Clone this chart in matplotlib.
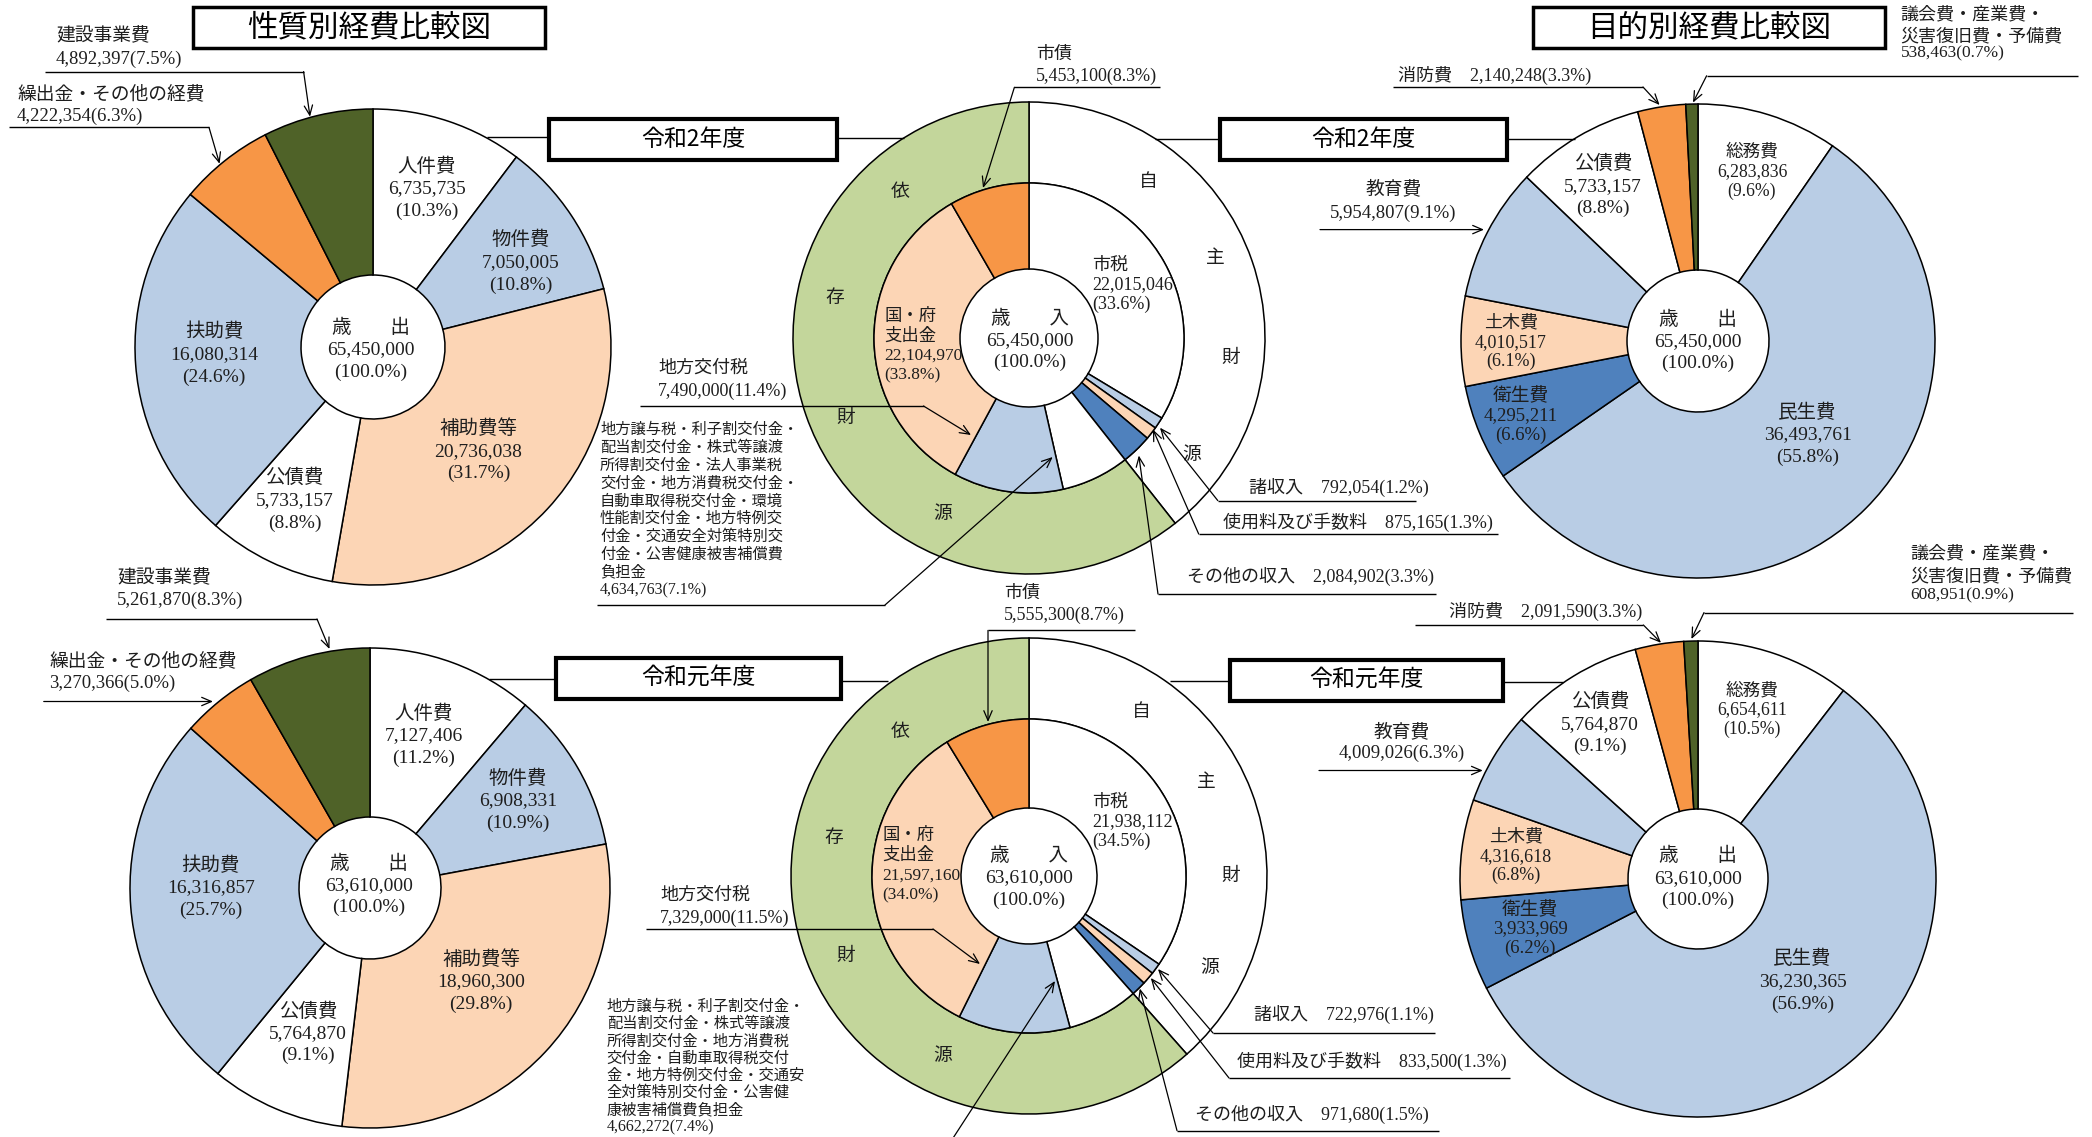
import matplotlib
matplotlib.use('Agg')
import matplotlib.pyplot as plt
from matplotlib.patches import Rectangle

W, H = 2092, 1137
plt.rcParams['font.family'] = ['Liberation Serif', 'Noto Sans CJK JP']
GOTHIC = ['Noto Sans CJK JP', 'DejaVu Sans']

# ---------------- data ----------------
years = ['令和2年度', '令和元年度']
totals = [65450000, 63610000]

nature_names = ['人件費', '物件費', '補助費等', '公債費', '扶助費', '繰出金・その他の経費', '建設事業費']
nature_r2 = [6735735, 7050005, 20736038, 5733157, 16080314, 4222354, 4892397]
nature_r2_pct = [10.3, 10.8, 31.7, 8.8, 24.6, 6.3, 7.5]
nature_r1 = [7127406, 6908331, 18960300, 5764870, 16316857, 3270366, 5261870]
nature_r1_pct = [11.2, 10.9, 29.8, 9.1, 25.7, 5.0, 8.3]

rev_names_r2 = ['市税', '諸収入', '使用料及び手数料', 'その他の収入',
                '地方譲与税・利子割交付金・\n配当割交付金・株式等譲渡\n所得割交付金・法人事業税\n交付金・地方消費税交付金・\n'
                '自動車取得税交付金・環境\n性能割交付金・地方特例交\n付金・交通安全対策特別交\n付金・公害健康被害補償費\n負担金',
                '地方交付税', '国・府\n支出金', '市債']
rev_names_r1 = ['市税', '諸収入', '使用料及び手数料', 'その他の収入',
                '地方譲与税・利子割交付金・\n配当割交付金・株式等譲渡\n所得割交付金・地方消費税\n交付金・自動車取得税交付\n'
                '金・地方特例交付金・交通安\n全対策特別交付金・公害健\n康被害補償費負担金',
                '地方交付税', '国・府\n支出金', '市債']
rev_r2 = [22015046, 792054, 875165, 2084902, 4634763, 7490000, 22104970, 5453100]
rev_r2_pct = [33.6, 1.2, 1.3, 3.3, 7.1, 11.4, 33.8, 8.3]
rev_r1 = [21938112, 722976, 833500, 971680, 4662272, 7329000, 21597160, 5555300]
rev_r1_pct = [34.5, 1.1, 1.3, 1.5, 7.4, 11.5, 34.0, 8.7]
own_count = 4  # first four items = 自主財源, rest = 依存財源

purpose_names = ['総務費', '民生費', '衛生費', '土木費', '教育費', '公債費', '消防費', '議会費・産業費・\n災害復旧費・予備費']
purpose_r2 = [6283836, 36493761, 4295211, 4010517, 5954807, 5733157, 2140248, 538463]
purpose_r2_pct = [9.6, 55.8, 6.6, 6.1, 9.1, 8.8, 3.3, 0.7]
purpose_r1 = [6654611, 36230365, 3933969, 4316618, 4009026, 5764870, 2091590, 608951]
purpose_r1_pct = [10.5, 56.9, 6.2, 6.8, 6.3, 9.1, 3.3, 0.9]

# ---------------- style ----------------
WH, LB, PE, OR, DG, BL, GR = '#FFFFFF', '#B9CDE5', '#FCD5B5', '#F79646', '#4F6228', '#4F81BD', '#C3D69B'
nature_colors = [WH, LB, PE, WH, LB, OR, DG]
rev_colors = [WH, LB, PE, BL, WH, LB, PE, OR]
purpose_colors = [WH, LB, BL, PE, LB, WH, OR, DG]
EDGE_LW = 1.1
FS = 14      # main in-pie labels
FS_OUT = 13.5

fig = plt.figure(figsize=(W / 100, H / 100), dpi=100)
fig.patch.set_facecolor('white')

ax0 = fig.add_axes([0, 0, 1, 1])
ax0.set_xlim(0, W)
ax0.set_ylim(H, 0)
ax0.axis('off')
ax0.set_zorder(5)
ax0.patch.set_visible(False)

PAD = 1.04


def pie_axes(cx, cy, R):
    return fig.add_axes([(cx - R * PAD) / W, 1 - (cy + R * PAD) / H, 2 * R * PAD / W, 2 * R * PAD / H])


def finish(ax):
    ax.set_xlim(-PAD, PAD)
    ax.set_ylim(-PAD, PAD)
    ax.set_aspect('equal')
    ax.axis('off')


def simple_pie(cx, cy, R, hole, vals, colors):
    ax = pie_axes(cx, cy, R)
    ax.pie(vals, colors=colors, startangle=90, counterclock=False, radius=1,
           wedgeprops=dict(width=1 - hole / R, edgecolor='black', linewidth=EDGE_LW))
    finish(ax)


def donut(cx, cy, R, mid, hole, vals, colors):
    ax = pie_axes(cx, cy, R)
    own = sum(vals[:own_count])
    dep = sum(vals[own_count:])
    ax.pie([own, dep], colors=[WH, GR], startangle=90, counterclock=False, radius=1,
           wedgeprops=dict(width=1 - mid / R, edgecolor='black', linewidth=EDGE_LW))
    ax.pie(vals, colors=colors, startangle=90, counterclock=False, radius=mid / R,
           wedgeprops=dict(width=(mid - hole) / R, edgecolor='black', linewidth=EDGE_LW))
    finish(ax)


def txt(x, y, s, ha='center', size=FS, **kw):
    ax0.text(x, y, s, ha=ha, va='center', fontsize=size, color='#1e1e1e', **kw)


def lines(x, y0, dy, strs, ha='center', size=FS):
    for i, s in enumerate(strs):
        txt(x, y0 + i * dy, s, ha=ha, size=size)


def seg(x1, y1, x2, y2, lw=1.0):
    ax0.plot([x1, x2], [y1, y2], color='black', lw=lw, solid_capstyle='butt')


def arrow(x1, y1, x2, y2):
    ax0.annotate('', xy=(x2, y2), xytext=(x1, y1),
                 arrowprops=dict(arrowstyle='->,head_length=0.7,head_width=0.3', lw=0.9,
                                 color='black', shrinkA=0, shrinkB=0))


def box(x1, y1, x2, y2, s, size, lw):
    ax0.add_patch(Rectangle((x1, y1), x2 - x1, y2 - y1, fill=True, facecolor='white',
                            edgecolor='black', lw=lw, zorder=3))
    ax0.text((x1 + x2) / 2, (y1 + y2) / 2, s, ha='center', va='center', fontsize=size,
             family=GOTHIC, zorder=4)


def three(names, vals, pcts, i):
    return [names[i], f'{vals[i]:,}', f'({pcts[i]:.1f}%)']


def center_lbl(word, total):
    return [word, f'{total:,}', '(100.0%)']


# ---------------- titles ----------------
box(193, 7, 545, 48, '性質別経費比較図', 22, 2.5)
box(1533, 7, 1885, 48, '目的別経費比較図', 22, 2.5)

# ---------------- year boxes + connectors ----------------
seg(487, 137, 549, 137); seg(837, 138, 904, 138)
seg(1155, 138.5, 1220, 138.5); seg(1507, 138.5, 1575, 138.5)
seg(489, 679, 556, 679); seg(841, 680.5, 888, 680.5)
seg(1170, 681, 1230, 681); seg(1503, 681.5, 1563, 681.5)
box(549, 119, 837, 160, years[0], 16.5, 3)
box(1220, 119, 1507, 160, years[0], 16.5, 3)
box(556, 658, 841, 699, years[1], 16.5, 3)
box(1230, 660, 1503, 701, years[1], 16.5, 3)

# ---------------- 性質別 (left) ----------------
simple_pie(373, 347, 238, 72, nature_r2, nature_colors)
simple_pie(370, 888, 240, 71, nature_r1, nature_colors)

n_pos_top = {0: (427, 166.5), 1: (521, 240), 2: (478.5, 428.6), 3: (294.6, 478), 4: (214, 332)}
for i, (x, y) in n_pos_top.items():
    lines(x, y, 22.5, three(nature_names, nature_r2, nature_r2_pct, i))
lines(371, 328, 22, center_lbl('歳　　出', totals[0]))

n_pos_bot = {0: (424, 714), 1: (518, 779), 2: (481, 960), 3: (308, 1011.6), 4: (210.7, 866)}
for i, (x, y) in n_pos_bot.items():
    lines(x, y, 22, three(nature_names, nature_r1, nature_r1_pct, i))
lines(369, 863.5, 22, center_lbl('歳　　出', totals[1]))

# outside labels (top)
lines(56, 36, 23, [nature_names[6], f'{nature_r2[6]:,}({nature_r2_pct[6]:.1f}%)'], ha='left', size=FS_OUT)
seg(45, 71.6, 303.6, 71.6); arrow(303.6, 71.6, 310, 116.7)
lines(17, 94, 22, [nature_names[5], f'{nature_r2[5]:,}({nature_r2_pct[5]:.1f}%)'], ha='left', size=FS_OUT)
seg(9, 127.4, 209, 127.4); arrow(209, 127.4, 219.6, 163.8)
# outside labels (bottom)
lines(117, 578, 22, [nature_names[6], f'{nature_r1[6]:,}({nature_r1_pct[6]:.1f}%)'], ha='left', size=FS_OUT)
seg(106, 619, 317, 619); arrow(317, 619, 329.5, 649)
lines(49, 661, 22.7, [nature_names[5], f'{nature_r1[5]:,}({nature_r1_pct[5]:.1f}%)'], ha='left', size=FS_OUT)
arrow(43.75, 701.5, 213, 701.5)

# ---------------- 歳入 (middle) ----------------
donut(1029, 338, 236, 155, 69, rev_r2, rev_colors)
donut(1029, 876, 238, 157, 68, rev_r1, rev_colors)

ring_chars = ['自', '主', '財', '源', '依', '存', '財', '源']
ring_pos_top = [(1148, 182), (1215, 259), (1231, 358.5), (1191.5, 455.5),
                (899.6, 192.8), (835, 299), (846, 418.5), (942.7, 514.6)]
ring_pos_bot = [(1141, 712), (1206, 782.5), (1231, 876.6), (1209.6, 969),
                (899.6, 732), (834, 838.6), (846, 956.5), (942.7, 1056)]
for ch, (x, y) in zip(ring_chars, ring_pos_top):
    txt(x, y, ch, size=13.5)
for ch, (x, y) in zip(ring_chars, ring_pos_bot):
    txt(x, y, ch, size=13.5)


def rev_block(names, vals, pcts, total, P):
    lines(P['tax'][0], P['tax'][1], 19.5, three(names, vals, pcts, 0), ha='left', size=13)
    lines(P['ctr'][0], P['ctr'][1], 22, center_lbl('歳　　入', total), size=FS)
    g = names[6].split('\n') + [f'{vals[6]:,}', f'({pcts[6]:.1f}%)']
    lines(P['gov'][0], P['gov'][1], 19.7, g, ha='left', size=12.5)
    lines(P['bond'][0], P['bond'][1], 22, [names[7], f'{vals[7]:,}({pcts[7]:.1f}%)'], ha='left', size=13)
    bx = P['bond_line']
    seg(bx[0], bx[1], bx[2], bx[1]); arrow(bx[0], bx[1], bx[3], bx[4])
    for k in (1, 2, 3):
        tx, ty = P['small_txt'][k]
        txt(tx, ty, f'{names[k]}　{vals[k]:,}({pcts[k]:.1f}%)', ha='left', size=13)
        ux1, ux2, uy, ax_, ay_ = P['small_line'][k]
        seg(ux1, uy, ux2, uy); arrow(ux1, uy, ax_, ay_)
    lines(P['kofu'][0], P['kofu'][1], 23, [names[5], f'{vals[5]:,}({pcts[5]:.1f}%)'], ha='left', size=13)
    k = P['kofu_line']
    seg(k[0], k[2], k[1], k[2]); arrow(k[1], k[2], k[3], k[4])
    blk = names[4].split('\n')
    x0, y0, dy = P['joyo']
    lines(x0, y0, dy, blk, ha='left', size=11)
    txt(x0, y0 + len(blk) * dy, f'{vals[4]:,}({pcts[4]:.1f}%)', ha='left', size=11.5)


P_top = dict(tax=(1092, 265), ctr=(1030, 318.6), gov=(884, 316.7),
             bond=(1036, 54), bond_line=(1014.4, 87.3, 1160, 983, 188),
             small_txt={1: (1249, 487), 2: (1222.6, 522), 3: (1186.7, 576.8)},
             small_line={1: (1217.8, 1416, 500.6, 1160, 427.7),
                         2: (1198.7, 1497.7, 534, 1153, 429.6),
                         3: (1158, 1435.5, 594, 1138.8, 455.5)},
             kofu=(658, 368), kofu_line=(640, 923.5, 406, 971, 435),
             joyo=(600, 430, 17.8))
rev_block(rev_names_r2, rev_r2, rev_r2_pct, totals[0], P_top)
seg(597, 605, 885, 605); arrow(885, 605, 1052.7, 457)

P_bot = dict(tax=(1092, 802), ctr=(1029, 856), gov=(882, 835.8),
             bond=(1004, 593.5), bond_line=(988, 630.4, 1135, 988, 722),
             small_txt={1: (1253.7, 1014), 2: (1237, 1061), 3: (1195, 1114.6)},
             small_line={1: (1213, 1434.5, 1033, 1158, 969),
                         2: (1229, 1509.7, 1078, 1150.8, 978),
                         3: (1177, 1439, 1130.6, 1139.8, 988.5)},
             kofu=(660, 895), kofu_line=(646, 933, 929, 980, 964),
             joyo=(606.7, 1006.7, 17.2))
rev_block(rev_names_r1, rev_r1, rev_r1_pct, totals[1], P_bot)
arrow(944, 1152, 1055, 981)

# ---------------- 目的別 (right) ----------------
simple_pie(1698, 341, 237, 71, purpose_r2, purpose_colors)
simple_pie(1698, 879, 238, 70, purpose_r1, purpose_colors)

p_top = {0: (1752, 152.3, 19.5, 12.7), 1: (1807.6, 412.5, 22.4, FS), 2: (1521, 396, 19.7, 13.5),
         3: (1511, 323, 19.3, 13), 5: (1603, 163.8, 22.4, FS)}
for i, (x, y, dy, fs) in p_top.items():
    lines(x, y, dy, three(purpose_names, purpose_r2, purpose_r2_pct, i), size=fs)
lines(1698, 319.5, 22, center_lbl('歳　　出', totals[0]))

p_bot = {0: (1752, 690.7, 19.2, 12.7), 1: (1802.5, 959, 22.5, FS), 2: (1530, 910, 19, 13.5),
         3: (1516, 836.8, 19.5, 13), 5: (1600, 701.7, 22.5, FS)}
for i, (x, y, dy, fs) in p_bot.items():
    lines(x, y, dy, three(purpose_names, purpose_r1, purpose_r1_pct, i), size=fs)
lines(1698, 856, 22.3, center_lbl('歳　　出', totals[1]))

# outside (top)
lines(1393.4, 189.4, 24, [purpose_names[4], f'{purpose_r2[4]:,}({purpose_r2_pct[4]:.1f}%)'], size=FS_OUT)
arrow(1320, 229.6, 1484, 229.6)
txt(1398.5, 75.8, f'{purpose_names[6]}　{purpose_r2[6]:,}({purpose_r2_pct[6]:.1f}%)', ha='left', size=13)
seg(1393, 87, 1643, 87); arrow(1643, 87, 1659.6, 105)
g = purpose_names[7].split('\n')
txt(1900.7, 15, g[0], ha='left', size=13); txt(1900.7, 37.3, g[1], ha='left', size=13)
txt(1900.7, 53.5, f'{purpose_r2[7]:,}({purpose_r2_pct[7]:.1f}%)', ha='left', size=12.5)
seg(1706.6, 75.8, 2077.8, 75.8); arrow(1706.6, 75.8, 1693, 102.6)
# outside (bottom)
lines(1402, 732, 21.5, [purpose_names[4], f'{purpose_r1[4]:,}({purpose_r1_pct[4]:.1f}%)'], size=FS_OUT)
arrow(1319, 770.5, 1482.8, 770.5)
txt(1449, 611.5, f'{purpose_names[6]}　{purpose_r1[6]:,}({purpose_r1_pct[6]:.1f}%)', ha='left', size=13)
seg(1415, 625, 1643.4, 625); arrow(1643.4, 625, 1661, 642.8)
txt(1910, 554, g[0], ha='left', size=13); txt(1910, 576.7, g[1], ha='left', size=13)
txt(1910, 595, f'{purpose_r1[7]:,}({purpose_r1_pct[7]:.1f}%)', ha='left', size=12.5)
seg(1704, 612.6, 2072.7, 612.6); arrow(1704, 612.6, 1691.4, 639)

fig.savefig('out.png', dpi=100, facecolor='white')
